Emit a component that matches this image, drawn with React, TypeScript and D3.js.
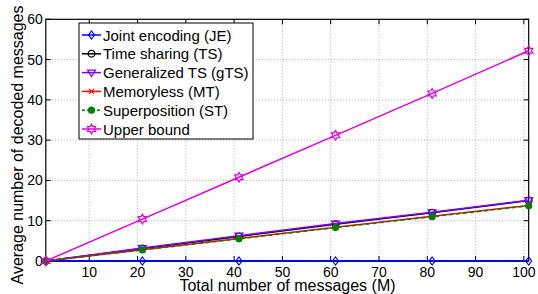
import React, { useEffect, useRef } from 'react';
import * as d3 from 'd3';

const messages = [1, 21, 41, 61, 81, 101];
const jointEncoding = [0, 0, 0, 0, 0, 0];
const timeSharing = [0, 3.1, 6.1, 9.1, 12.0, 15.0];
const generalizedTS = [0, 3.2, 6.3, 9.3, 12.1, 15.1];
const memoryless = [0, 2.8, 5.6, 8.4, 11.1, 13.8];
const superposition = [0, 2.75, 5.5, 8.3, 11.0, 13.7];
const upperBound = [0, 10.4, 20.8, 31.2, 41.6, 52.2];

const xTicks = [10, 20, 30, 40, 50, 60, 70, 80, 90, 100];
const yTicks = [0, 10, 20, 30, 40, 50, 60];

type Series = {
  name: string;
  values: number[];
  color: string;
  marker: string;
  dash?: string;
};

const series: Series[] = [
  { name: 'Joint encoding (JE)', values: jointEncoding, color: '#0000ff', marker: 'diamond' },
  { name: 'Time sharing (TS)', values: timeSharing, color: '#000000', marker: 'circle' },
  { name: 'Generalized TS (gTS)', values: generalizedTS, color: '#8000ff', marker: 'triangle' },
  { name: 'Memoryless (MT)', values: memoryless, color: '#ff0000', marker: 'x' },
  { name: 'Superposition (ST)', values: superposition, color: '#008000', marker: 'star', dash: '4,3' },
  { name: 'Upper bound', values: upperBound, color: '#e000e0', marker: 'hexagram' },
];

const W = 538;
const H = 294;
const left = 45.8;
const right = 528.7;
const top = 19.3;
const bottom = 261;
const font = "'Liberation Sans', Arial, sans-serif";

function markerPath(kind: string): string {
  const r = 3.5;
  switch (kind) {
    case 'diamond':
      return `M0,${-r - 0.5}L${r - 0.5},0L0,${r + 0.5}L${-r + 0.5},0Z`;
    case 'circle':
      return d3.symbol(d3.symbolCircle, 36)() || '';
    case 'triangle':
      return `M${-r - 0.5},${-r + 1}L${r + 0.5},${-r + 1}L0,${r + 0.5}Z`;
    case 'x':
      return `M${-2.5},${-2.5}L2.5,2.5M-2.5,2.5L2.5,-2.5`;
    case 'star':
      return d3.symbol(d3.symbolCircle, 28)() || '';
    case 'hexagram': {
      const pts: string[] = [];
      for (let i = 0; i < 12; i++) {
        const a = (Math.PI / 6) * i - Math.PI / 2;
        const rr = i % 2 === 0 ? 4.8 : 2.8;
        pts.push(`${rr * Math.cos(a)},${rr * Math.sin(a)}`);
      }
      return 'M' + pts.join('L') + 'Z';
    }
  }
  return '';
}

const App: React.FC = () => {
  const ref = useRef<SVGSVGElement>(null);

  useEffect(() => {
    const svg = d3.select(ref.current);
    svg.selectAll('*').remove();

    const x = d3.scaleLinear().domain([1, 101]).range([left, right]);
    const y = d3.scaleLinear().domain([0, 60]).range([bottom, top]);

    svg.append('rect').attr('width', W).attr('height', H).attr('fill', '#fff');

    // grid
    const grid = svg.append('g').attr('stroke', '#b0b0b0').attr('stroke-width', 1).attr('stroke-dasharray', '1,2');
    xTicks.forEach((t) => {
      grid.append('line').attr('x1', x(t)).attr('x2', x(t)).attr('y1', top).attr('y2', bottom);
    });
    yTicks.slice(1, -1).forEach((t) => {
      grid.append('line').attr('x1', left).attr('x2', right).attr('y1', y(t)).attr('y2', y(t));
    });

    // ticks (inward, mirrored)
    const ticks = svg.append('g').attr('stroke', '#000').attr('stroke-width', 1);
    xTicks.forEach((t) => {
      ticks.append('line').attr('x1', x(t)).attr('x2', x(t)).attr('y1', bottom).attr('y2', bottom - 5);
      ticks.append('line').attr('x1', x(t)).attr('x2', x(t)).attr('y1', top).attr('y2', top + 5);
    });
    yTicks.forEach((t) => {
      ticks.append('line').attr('x1', left).attr('x2', left + 5).attr('y1', y(t)).attr('y2', y(t));
      ticks.append('line').attr('x1', right).attr('x2', right - 5).attr('y1', y(t)).attr('y2', y(t));
    });

    svg.append('rect')
      .attr('x', left).attr('y', top)
      .attr('width', right - left).attr('height', bottom - top)
      .attr('fill', 'none').attr('stroke', '#000').attr('stroke-width', 1.2);

    // tick labels
    svg.append('g').selectAll('text').data(xTicks).enter().append('text')
      .attr('x', (d) => x(d)).attr('y', bottom + 16)
      .attr('text-anchor', 'middle')
      .attr('font-family', font).attr('font-size', 14)
      .text((d) => d);
    svg.append('g').selectAll('text').data(yTicks).enter().append('text')
      .attr('x', left - 3).attr('y', (d) => y(d) + 5)
      .attr('text-anchor', 'end')
      .attr('font-family', font).attr('font-size', 14)
      .text((d) => d);

    // axis labels
    svg.append('text')
      .attr('x', 287.5).attr('y', 291)
      .attr('text-anchor', 'middle')
      .attr('font-family', font).attr('font-size', 16)
      .text('Total number of messages (M)');
    svg.append('text')
      .attr('transform', `translate(23,145) rotate(-90)`)
      .attr('text-anchor', 'middle')
      .attr('font-family', font).attr('font-size', 16)
      .text('Average number of decoded messages');

    // lines
    const line = d3.line<number>()
      .x((_, i) => x(messages[i]))
      .y((d) => y(d));

    series.forEach((s) => {
      svg.append('path')
        .attr('d', line(s.values) || '')
        .attr('fill', 'none')
        .attr('stroke', s.color)
        .attr('stroke-width', s.marker === 'diamond' ? 2 : 1.5)
        .attr('stroke-dasharray', s.dash || null);
      const filled = s.marker === 'star';
      svg.append('g').selectAll('path').data(s.values).enter().append('path')
        .attr('transform', (d, i) => `translate(${x(messages[i])},${y(d)})`)
        .attr('d', markerPath(s.marker))
        .attr('fill', filled ? s.color : 'none')
        .attr('stroke', s.color)
        .attr('stroke-width', 1.2);
    });

    // legend
    const lx = 79;
    const ly = 23;
    const legend = svg.append('g');
    legend.append('rect')
      .attr('x', lx).attr('y', ly).attr('width', 174).attr('height', 116)
      .attr('fill', '#fff').attr('stroke', '#000').attr('stroke-width', 1);
    series.forEach((s, i) => {
      const cy = ly + 12 + i * 18.8;
      legend.append('line')
        .attr('x1', lx + 3).attr('x2', lx + 22).attr('y1', cy).attr('y2', cy)
        .attr('stroke', s.color).attr('stroke-width', 1.5)
        .attr('stroke-dasharray', s.dash ? '3,2' : null);
      legend.append('path')
        .attr('transform', `translate(${lx + 12.5},${cy})`)
        .attr('d', markerPath(s.marker))
        .attr('fill', s.marker === 'star' ? s.color : 'none')
        .attr('stroke', s.color).attr('stroke-width', 1.2);
      legend.append('text')
        .attr('x', lx + 24).attr('y', cy + 5.5)
        .attr('font-family', font).attr('font-size', 15)
        .text(s.name);
    });
  }, []);

  return (
    <svg ref={ref} width={W} height={H} style={{ position: 'absolute', left: 0, top: 0 }} />
  );
};

export default App;
